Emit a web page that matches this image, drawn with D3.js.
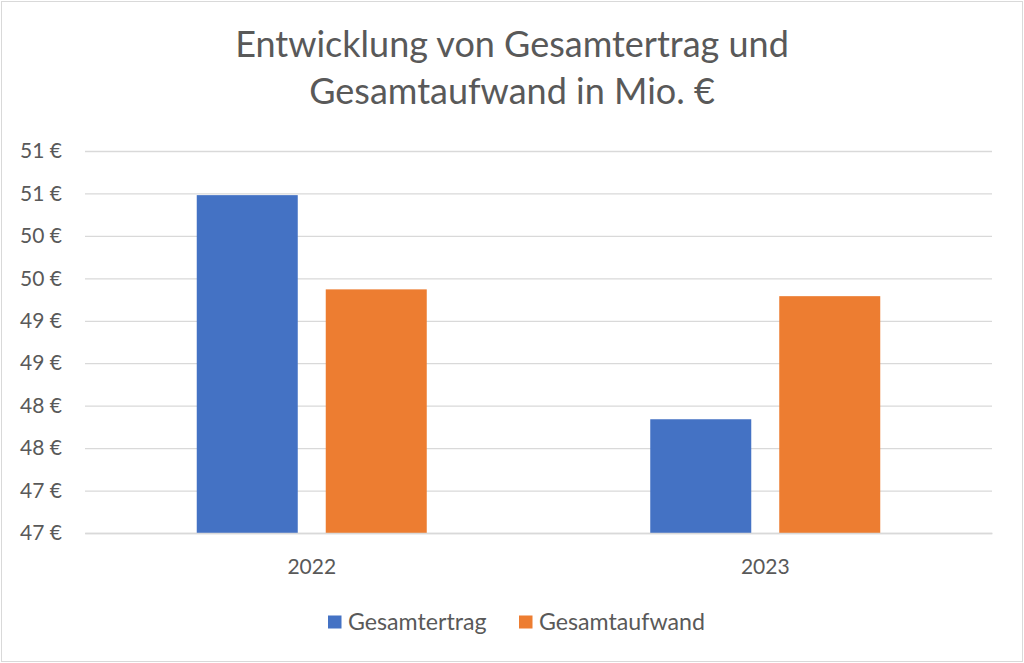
<!DOCTYPE html>
<html><head><meta charset="utf-8">
<script src="https://cdn.jsdelivr.net/npm/d3@7/dist/d3.min.js"></script>
<style>body{margin:0;background:#fff;} svg{display:block;}</style>
</head><body>
<svg id="chart" width="1024" height="663"></svg>
<script>
const categories = ["2022", "2023"];
const seriesNames = ["Gesamtertrag", "Gesamtaufwand"];
const gesamtertrag = [50.48, 47.84];
const gesamtaufwand = [49.37, 49.29];
const tickValues = [46.5, 47, 47.5, 48, 48.5, 49, 49.5, 50, 50.5, 51];
const titleLines = ["Entwicklung von Gesamtertrag und", "Gesamtaufwand in Mio. €"];
const colors = ["#4472C4", "#ED7D31"];

const font = "Lato, 'Open Sans', sans-serif";
const textColor = "#595959";
const svg = d3.select("#chart");
const W = 1024, H = 663;
svg.append("rect").attr("x", 1.5).attr("y", 1.5).attr("width", W - 3).attr("height", H - 3)
  .attr("fill", "#fff").attr("stroke", "#d9d9d9").attr("stroke-width", 1);

const y = d3.scaleLinear().domain([46.5, 51]).range([533, 151]);
const x0 = d3.scaleBand().domain(categories).range([85, 992]).paddingInner(0).paddingOuter(0);
const groupW = 230;
const x1 = d3.scaleBand().domain(seriesNames).range([0, groupW]).paddingInner(0.217).paddingOuter(0);

// gridlines
const grid = svg.append("g").attr("transform", "translate(85,0)")
  .call(d3.axisLeft(y).tickValues(tickValues).tickSize(-(992 - 85)).tickFormat(""));
grid.select(".domain").remove();
grid.selectAll("line").attr("stroke", "#d9d9d9").attr("stroke-width", 1.3);

// y labels
const yAx = svg.append("g").attr("transform", "translate(62,0)")
  .call(d3.axisLeft(y).tickValues(tickValues).tickSize(0).tickPadding(0)
    .tickFormat(d => d3.format(".0f")(Math.round(d)) + " €"));
yAx.select(".domain").remove();
yAx.selectAll("text").attr("font-family", font).attr("font-size", 21).attr("fill", textColor)
  .attr("text-anchor", "end");

// bars
const data = categories.map((c, i) => ({cat: c, vals: [gesamtertrag[i], gesamtaufwand[i]]}));
const groups = svg.append("g").selectAll("g").data(data).join("g")
  .attr("transform", d => `translate(${x0(d.cat) + (x0.bandwidth() - groupW) / 2},0)`);
groups.selectAll("rect").data(d => d.vals.map((v, j) => ({name: seriesNames[j], v, j})))
  .join("rect")
  .attr("x", d => x1(d.name)).attr("width", x1.bandwidth())
  .attr("y", d => y(d.v)).attr("height", d => y(46.5) - y(d.v))
  .attr("fill", d => colors[d.j]);

// x axis labels
const xAx = svg.append("g").attr("transform", "translate(0,533)")
  .call(d3.axisBottom(x0).tickSize(0).tickPadding(26));
xAx.select(".domain").attr("stroke", "#d9d9d9").attr("stroke-width", 1.3);
xAx.selectAll("text").attr("font-family", font).attr("font-size", 21).attr("fill", textColor);

// title
svg.append("g").selectAll("text").data(titleLines).join("text")
  .attr("x", 512).attr("y", (d, i) => 57 + i * 47)
  .attr("text-anchor", "middle").attr("font-family", font).attr("font-size", 36)
  .attr("fill", textColor).text(d => d);

// legend
const legendItems = [{name: seriesNames[0], x: 328}, {name: seriesNames[1], x: 519}];
const lg = svg.append("g").selectAll("g").data(legendItems).join("g")
  .attr("transform", d => `translate(${d.x},615.5)`);
lg.append("rect").attr("width", 13.5).attr("height", 13).attr("fill", (d, i) => colors[i]);
lg.append("text").attr("x", 20).attr("y", 14).attr("font-family", font).attr("font-size", 23.2)
  .attr("fill", textColor).text(d => d.name);
</script>
</body></html>
